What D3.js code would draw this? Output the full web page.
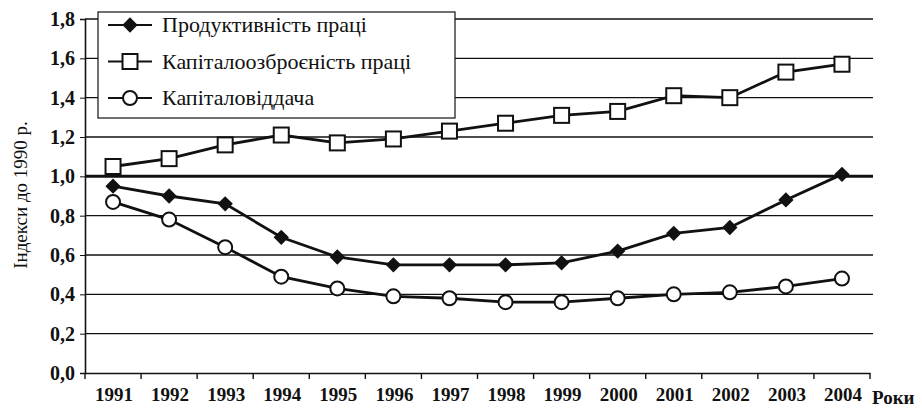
<!DOCTYPE html>
<html>
<head>
<meta charset="utf-8">
<script src="https://cdn.jsdelivr.net/npm/d3@7"></script>
<style>
  body { margin: 0; background: #fff; }
</style>
</head>
<body>
<svg id="chart" width="922" height="416"></svg>
<script>
const years = ["1991", "1992", "1993", "1994", "1995", "1996", "1997",
    "1998", "1999", "2000", "2001", "2002", "2003", "2004"];
const productivity = [0.95, 0.90, 0.86, 0.69, 0.59, 0.55, 0.55, 0.55, 0.56, 0.62, 0.71, 0.74, 0.88, 1.01];
const capitalLabour = [1.05, 1.09, 1.16, 1.21, 1.17, 1.19, 1.23, 1.27, 1.31, 1.33, 1.41, 1.40, 1.53, 1.57];
const capitalReturn = [0.87, 0.78, 0.64, 0.49, 0.43, 0.39, 0.38, 0.36, 0.36, 0.38, 0.40, 0.41, 0.44, 0.48];
const yTicks = [0, 0.2, 0.4, 0.6, 0.8, 1.0, 1.2, 1.4, 1.6, 1.8];
const seriesNames = ["Продуктивність праці", "Капіталоозброєність праці", "Капіталовіддача"];

const FONT = "'Liberation Serif', 'Times New Roman', 'DejaVu Serif', serif";
const svg = d3.select("#chart");
const margin = {left: 85, right: 52, top: 19, bottom: 43};
const W = 922, H = 416;

const x = d3.scaleBand().domain(years).range([margin.left, W - margin.right]).padding(0);
const y = d3.scaleLinear().domain([0, 1.8]).range([H - margin.bottom, margin.top]);
const cx = d => x(d) + x.bandwidth() / 2;
const fmt = v => d3.format(".1f")(v).replace(".", ",");

// grid
svg.append("g").selectAll("line").data(yTicks.filter(t => t > 0)).join("line")
    .attr("x1", margin.left).attr("x2", W - margin.right + 3)
    .attr("y1", d => y(d)).attr("y2", d => y(d))
    .attr("stroke", "#111")
    .attr("stroke-width", d => d === 1.0 ? 3 : 1.3);

// y axis
const yAxis = svg.append("g")
    .attr("transform", `translate(${margin.left},0)`)
    .call(d3.axisLeft(y).tickValues(yTicks).tickFormat(fmt).tickSize(5).tickPadding(5));
yAxis.attr("font-family", null).attr("font-size", null);
yAxis.select(".domain").attr("stroke", "#111").attr("stroke-width", 1.6);
yAxis.selectAll("line").attr("stroke", "#111");
yAxis.selectAll("text")
    .style("font-family", FONT).style("font-size", "20px").style("font-weight", "bold")
    .attr("fill", "#111");

// x axis
const xAxis = svg.append("g")
    .attr("transform", `translate(0,${y(0)})`)
    .call(d3.axisBottom(x).tickSize(0).tickPadding(15));
xAxis.attr("font-family", null).attr("font-size", null);
xAxis.select(".domain").attr("stroke", "#111").attr("stroke-width", 1.6);
xAxis.selectAll("text")
    .style("font-family", FONT).style("font-size", "19px").style("font-weight", "bold")
    .attr("fill", "#111").attr("dx", "1");
// boundary tick marks between categories
const bounds = years.map(d => x(d)).concat([x(years[years.length - 1]) + x.bandwidth()]);
xAxis.append("g").selectAll("line").data(bounds).join("line")
    .attr("x1", d => d).attr("x2", d => d).attr("y1", 0).attr("y2", 6)
    .attr("stroke", "#111").attr("stroke-width", 1.4);

svg.append("text")
    .attr("x", W - margin.right + 2).attr("y", y(0) + 31)
    .style("font-family", FONT).style("font-size", "19px").style("font-weight", "bold")
    .attr("fill", "#111")
    .text("Роки");

svg.append("text")
    .attr("transform", `translate(27,195) rotate(-90)`)
    .attr("text-anchor", "middle")
    .style("font-family", FONT).style("font-size", "19px")
    .attr("fill", "#111")
    .text("Індекси до 1990 р.");

// series
const line = d3.line().x((d, i) => cx(years[i])).y(d => y(d));
const series = [
    {values: productivity, marker: "diamond"},
    {values: capitalLabour, marker: "square"},
    {values: capitalReturn, marker: "circle"}
];

function drawMarker(g, type, px, py) {
    if (type === "diamond") {
        g.append("path")
            .attr("d", d3.symbol().type(d3.symbolDiamond2).size(150)())
            .attr("transform", `translate(${px},${py})`)
            .attr("fill", "#111");
    } else if (type === "square") {
        g.append("rect")
            .attr("x", px - 7.5).attr("y", py - 7.5).attr("width", 15).attr("height", 15)
            .attr("fill", "#fff").attr("stroke", "#111").attr("stroke-width", 2);
    } else {
        g.append("circle")
            .attr("cx", px).attr("cy", py).attr("r", 7)
            .attr("fill", "#fff").attr("stroke", "#111").attr("stroke-width", 2);
    }
}

series.forEach(s => {
    svg.append("path").datum(s.values)
        .attr("d", line)
        .attr("fill", "none").attr("stroke", "#111").attr("stroke-width", 2.8);
    const g = svg.append("g");
    s.values.forEach((v, i) => drawMarker(g, s.marker, cx(years[i]), y(v)));
});

// legend
const lg = svg.append("g");
lg.append("rect")
    .attr("x", 98).attr("y", 12).attr("width", 357).attr("height", 106)
    .attr("fill", "#fff").attr("stroke", "#111").attr("stroke-width", 1.2);
series.forEach((s, i) => {
    const ly = 25 + i * 36.5;
    lg.append("line").attr("x1", 108).attr("x2", 152).attr("y1", ly).attr("y2", ly)
        .attr("stroke", "#111").attr("stroke-width", 2.2);
    drawMarker(lg, s.marker, 130, ly);
    lg.append("text").attr("x", 162).attr("y", ly + 7)
        .style("font-family", FONT).style("font-size", "22px")
        .attr("fill", "#111")
        .text(seriesNames[i]);
});
</script>
</body>
</html>
